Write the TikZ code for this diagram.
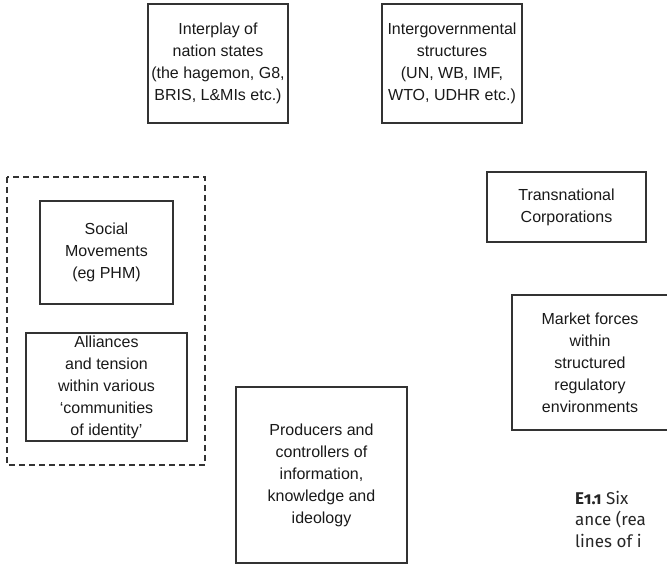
\documentclass[tikz,border=0pt]{standalone}
\usepackage{fontspec}
\setmainfont{Liberation Sans}
\newfontfamily\captionfont[Numbers=OldStyle]{Fira Sans}
\begin{document}
\begin{tikzpicture}
[x=1pt,y=-1pt,
 box/.style={draw=black!80,line width=1.1pt,align=center,inner sep=0pt,
   font=\fontsize{16}{22}\selectfont,text=black!90}]
\clip (0,0) rectangle (667,564);
% nation states
\node[box,minimum width=140,minimum height=119] (states) at (218,63.5)
  {Interplay of\\nation states\\(the hagemon, G8,\\BRIS, L\&MIs etc.)};
% intergovernmental
\node[box,minimum width=140,minimum height=119] (intergov) at (452,63.5)
  {Intergovernmental\\structures\\(UN, WB, IMF,\\WTO, UDHR etc.)};
% civil society group
\draw[draw=black!80,line width=1.1pt,dash pattern=on 6pt off 4pt] (7,177) rectangle (205,465);
\node[box,minimum width=133,minimum height=103] (social) at (106.5,252.5)
  {Social\\Movements\\(eg PHM)};
\node[box,minimum width=161,minimum height=108] (alliances) at (106.5,387)
  {Alliances\\and tension\\within various\\`communities\\of identity'};
% information
\node[box,minimum width=171,minimum height=176] (producers) at (321.5,475)
  {Producers and\\controllers of\\information,\\knowledge and\\ideology};
% corporations
\node[box,minimum width=159,minimum height=70] (tncs) at (566.5,207)
  {Transnational\\Corporations};
% markets
\node[box,minimum width=156,minimum height=135] (market) at (590,362.5)
  {Market forces\\within\\structured\\regulatory\\environments};
% caption
\node[anchor=north west,align=left,inner sep=0pt,text=black!85,
  font=\captionfont\fontsize{17}{21.5}\selectfont] (caption) at (575,491)
  {\textbf{E1.1} Six\\ance (rea\\lines of i};
\end{tikzpicture}
\end{document}
